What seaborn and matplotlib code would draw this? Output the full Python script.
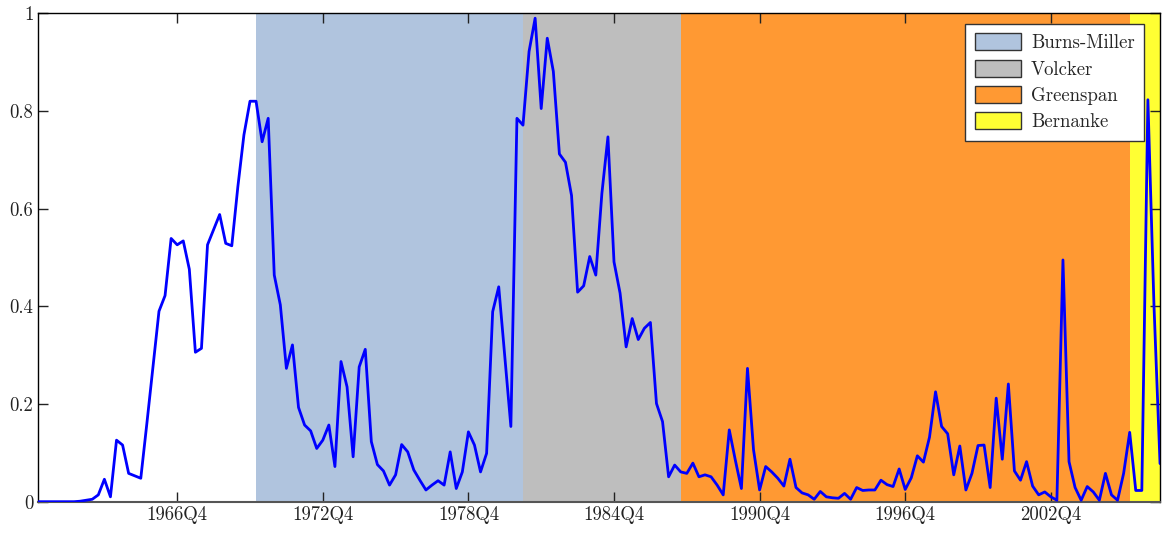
import numpy as np
import pandas as pd
import seaborn as sns
import matplotlib.pyplot as plt
from matplotlib.patches import Patch

# quarterly series, 1961Q1 .. 2007Q2
quarters = pd.period_range("1961Q1", "2007Q2", freq="Q").astype(str)

values = [
    0, 0, 0, 0, 0, 0, 0, 0.001, 0.003, 0.005,
    0.014, 0.046, 0.01, 0.126, 0.116, 0.058, 0.053, 0.048, 0.16, 0.275,
    0.39, 0.422, 0.539, 0.526, 0.534, 0.476, 0.306, 0.314, 0.526, 0.557,
    0.588, 0.529, 0.524, 0.645, 0.751, 0.82, 0.82, 0.737, 0.785, 0.464,
    0.403, 0.273, 0.321, 0.193, 0.157, 0.145, 0.109, 0.126, 0.157, 0.072,
    0.287, 0.235, 0.092, 0.276, 0.312, 0.123, 0.076, 0.063, 0.034, 0.055,
    0.117, 0.102, 0.065, 0.044, 0.024, 0.034, 0.043, 0.034, 0.102, 0.027,
    0.061, 0.143, 0.116, 0.061, 0.099, 0.389, 0.44, 0.297, 0.154, 0.785,
    0.771, 0.922, 0.99, 0.805, 0.949, 0.881, 0.712, 0.695, 0.627, 0.429,
    0.442, 0.502, 0.464, 0.631, 0.747, 0.491, 0.427, 0.317, 0.375, 0.332,
    0.355, 0.367, 0.201, 0.164, 0.051, 0.075, 0.061, 0.058, 0.079, 0.051,
    0.055, 0.051, 0.034, 0.014, 0.147, 0.085, 0.027, 0.273, 0.106, 0.024,
    0.072, 0.061, 0.048, 0.032, 0.087, 0.029, 0.018, 0.014, 0.005, 0.021,
    0.01, 0.008, 0.007, 0.017, 0.005, 0.029, 0.023, 0.024, 0.024, 0.044,
    0.035, 0.031, 0.067, 0.025, 0.049, 0.094, 0.081, 0.132, 0.225, 0.154,
    0.139, 0.055, 0.114, 0.024, 0.058, 0.115, 0.116, 0.029, 0.212, 0.087,
    0.241, 0.063, 0.044, 0.082, 0.032, 0.014, 0.02, 0.01, 0.003, 0.495,
    0.082, 0.029, 0.003, 0.031, 0.02, 0.003, 0.058, 0.014, 0.003, 0.058,
    0.142, 0.023, 0.023, 0.823, 0.403, 0.078,
]

# fed chair eras (start quarter, end quarter)
chairs = ["Burns-Miller", "Volcker", "Greenspan", "Bernanke"]
chair_start = ["1970Q1", "1981Q1", "1987Q3", "2006Q1"]
chair_end = ["1981Q1", "1987Q3", "2006Q1", "2007Q2"]
chair_colors = ["#b0c4de", "#bebebe", "#ff9933", "#ffff33"]

tick_labels = ["1966Q4", "1972Q4", "1978Q4", "1984Q4", "1990Q4", "1996Q4", "2002Q4"]

df = pd.DataFrame({"quarter": quarters, "value": values})
df["t"] = np.arange(len(df))
pos = {q: i for i, q in enumerate(quarters)}

sns.set_style("ticks")
plt.rcParams["font.family"] = "serif"
plt.rcParams["font.serif"] = ["cmr10", "DejaVu Serif"]
plt.rcParams["axes.formatter.use_mathtext"] = True

fig = plt.figure(figsize=(11.62, 5.39), dpi=100)
ax = fig.add_axes([0.0324, 0.0692, 0.9659, 0.9061])

for name, s, e, c in zip(chairs, chair_start, chair_end, chair_colors):
    ax.axvspan(pos[s], pos[e], color=c, lw=0, zorder=0)

sns.lineplot(data=df, x="t", y="value", color="#0000ff", linewidth=2.0, ax=ax, zorder=3)

ax.set_xlim(0, len(df) - 1)
ax.set_ylim(0, 1)
ax.set_xticks([pos[q] for q in tick_labels])
ax.set_xticklabels(tick_labels)
ax.set_yticks([0, 0.2, 0.4, 0.6, 0.8, 1])
ax.set_yticklabels(["0", "0.2", "0.4", "0.6", "0.8", "1"])
ax.set_xlabel("")
ax.set_ylabel("")
ax.tick_params(direction="in", length=7, top=True, right=True, labelsize=13.5,
               colors="#222222", width=1, pad=3)
for sp in ax.spines.values():
    sp.set_visible(True)
    sp.set_color("black")
    sp.set_linewidth(1)
ax.spines["bottom"].set_color("#555555")
ax.spines["bottom"].set_linewidth(1.5)

handles = [Patch(facecolor=c, edgecolor="#333333", label=n) for n, c in zip(chairs, chair_colors)]
leg = ax.legend(handles=handles, loc="upper right", bbox_to_anchor=(0.9857, 0.978),
                borderaxespad=0, fontsize=13.5, fancybox=False, framealpha=1,
                edgecolor="#333333", handlelength=2.5, handleheight=1.0,
                borderpad=0.5, labelspacing=0.4, handletextpad=0.5)
leg.get_frame().set_linewidth(1)

fig.savefig("out.png", dpi=100)
